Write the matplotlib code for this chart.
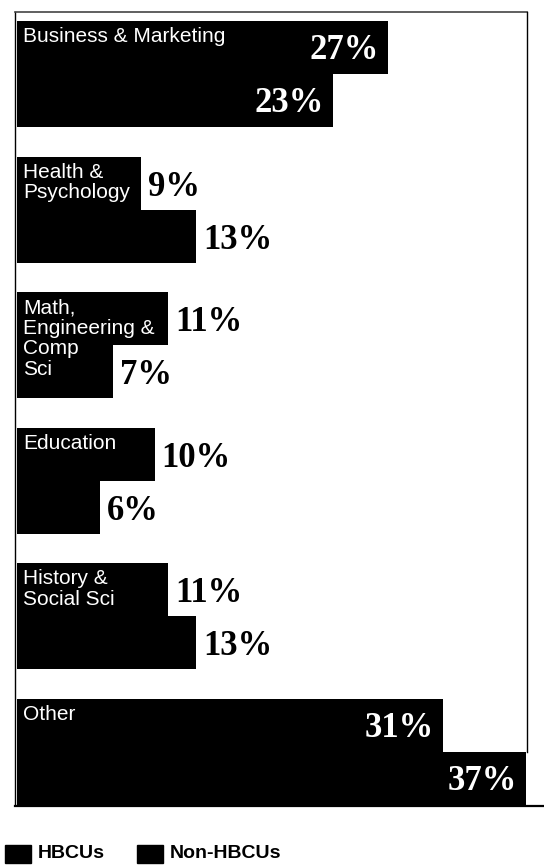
import matplotlib.pyplot as plt
from matplotlib.patches import Rectangle

categories = ['Business & Marketing', 'Health &\nPsychology',
              'Math,\nEngineering &\nComp\nSci', 'Education',
              'History &\nSocial Sci', 'Other']
hbcu = [27, 9, 11, 10, 11, 31]
non_hbcu = [23, 13, 7, 6, 13, 37]
series = ['HBCUs', 'Non-HBCUs']

W, H = 544, 865
x0 = 17          # pixel where 0% sits
px_per_pct = 13.75
bar_h = 53
first_top = 21
group_step = 135.6
line_step = 20.5

sans = ['Liberation Sans', 'DejaVu Sans']
serif = ['Liberation Serif', 'DejaVu Serif']

fig = plt.figure(figsize=(W / 100, H / 100), dpi=100)
ax = fig.add_axes([0, 0, 1, 1])
ax.set_xlim(-x0 / px_per_pct, (W - x0) / px_per_pct)
ax.set_ylim(H, 0)
ax.axis('off')

# pixel helpers for the frame / legend (layout only)
def px(x):
    return (x - x0) / px_per_pct

# frame lines
ax.plot([px(15), px(15)], [12, 805], color='black', lw=1.0)
ax.plot([px(15), px(527)], [12, 12], color='#444444', lw=1.2)
ax.plot([px(527), px(527)], [12, 752], color='black', lw=1.0)
ax.plot([px(15), px(544)], [806, 806], color='black', lw=1.6)

for i, (cat, a, b) in enumerate(zip(categories, hbcu, non_hbcu)):
    top = first_top + i * group_step
    for j, v in enumerate([a, b]):
        y = top + j * bar_h
        ax.barh(y + bar_h / 2, v, height=bar_h, left=0, color='black')
        if v >= 20:
            ax.text(v - 9 / px_per_pct, y + bar_h / 2 + 3, f'{v}%', ha='right', va='center',
                    color='white', fontsize=25, fontweight='bold', family=serif)
        else:
            ax.text(v + 7 / px_per_pct, y + bar_h / 2 + 4, f'{v}%', ha='left', va='center',
                    color='black', fontsize=25, fontweight='bold', family=serif)
    # one text per line so the label boxes stay on the black bars
    for k, line in enumerate(cat.split('\n')):
        ax.text(px(23), top + 6 + k * line_step, line, ha='left', va='top',
                color='white', fontsize=15, family=sans)

# legend
for k, name in enumerate(series):
    lx = [5, 137][k]
    ax.add_patch(Rectangle((px(lx), 845), 26 / px_per_pct, 18, color='black'))
    ax.text(px(lx + 33), 854, name, ha='left', va='center', color='black',
            fontsize=14, fontweight='bold', family=sans)

fig.savefig('out.png', dpi=100)
